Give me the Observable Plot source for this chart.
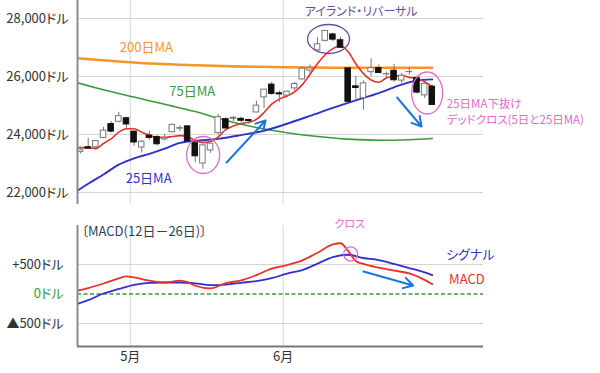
<!DOCTYPE html>
<html><head><meta charset="utf-8">
<script src="https://cdn.jsdelivr.net/npm/d3@7"></script>
<script src="https://cdn.jsdelivr.net/npm/@observablehq/plot@0.6"></script>
<style>
body{margin:0;background:#fff;}
#chart{position:relative;width:600px;height:373px;overflow:hidden;background:#fff;}
#chart svg{position:absolute;left:0;}
#chart text{font-feature-settings:"palt";}
</style></head><body><div id="chart"></div>
<script>
// ---- data (Dow, daily candles) ----
const dates = ["4/22","4/23","4/24","4/27","4/28","4/29","4/30","5/1","5/4","5/5","5/6","5/7","5/8","5/11","5/12","5/13","5/14","5/15","5/18","5/19","5/20","5/21","5/22","5/26","5/27","5/28","5/29","6/1","6/2","6/3","6/4","6/5","6/8","6/9","6/10","6/11","6/12","6/15","6/16","6/17","6/18","6/19","6/22","6/23","6/24","6/25","6/26"];
const opens  = [23400,23560,23560,23880,24360,24440,24560,24100,23550,23960,23910,23830,24080,24200,24280,23700,23000,23450,24050,24530,24540,24540,24500,24760,25280,25720,25420,25340,25590,25900,26210,26900,27230,27450,27250,26280,25660,25250,26150,26290,26070,26200,25860,26150,25950,25350,25650];
const highs  = [23560,23870,23800,24250,24450,24765,24600,24100,23800,24120,23970,24000,24360,24300,24300,23760,23650,23700,24690,24570,24620,24600,24520,25150,25550,25800,25500,25500,25800,26330,26390,27340,27580,27500,27355,26300,26000,25850,26610,26400,26150,26420,26100,26300,26020,25760,25700];
const lows   = [23330,23480,23450,23850,24050,24400,24200,23590,23360,23800,23600,23780,24050,24100,23760,23030,22800,23350,24000,24200,24450,24400,24350,24750,24900,25350,25100,25320,25500,25880,26100,26880,27190,27200,26980,25100,25200,24840,26000,26100,25900,25800,25750,26050,25400,25250,25000];
const closes = [23475,23515,23775,24134,24101,24634,24346,23724,23750,23883,23664,23875,24331,24221,23764,23248,23625,23685,24597,24207,24576,24474,24465,24995,25548,25401,25383,25475,25742,26270,26282,27110,27572,27272,26990,25128,25606,25763,26290,26120,26080,25871,26025,26156,25445,25746,25016];

// moving averages (day index; -1 = day before the window)
const ma5Days = [-1,0,1,2,3,4,5,6,7,8,9,10,11,12,13,14,15,16,17,18,19,20,21,22,23,24,25,26,27,28,29,30,31,32,33,34,35,36,37,38,39,40,41,42,43,44,45,46];
const ma5 = [23560,23550,23540,23520,23690,23850,24080,24200,24200,24080,23980,23900,23900,23930,23960,23920,23800,23720,23760,23920,24170,24290,24380,24420,24520,24760,25050,25220,25330,25470,25720,26070,26450,26750,26960,27060,26850,26440,26100,25880,25800,25950,26020,26030,25970,25930,25820,25650];
const ma25Days = [-1,1,3,5,7,9,11,13,15,18,21,24,27,30,33,36,39,42,44,46];
const ma25 = [21960,22300,22620,22960,23180,23330,23510,23710,23780,23850,23980,24130,24370,24640,24920,25180,25430,25720,25860,25900];
const ma75Days = [-1,3,7,11,15,19,23,27,31,35,39,43,46];
const ma75 = [25830,25540,25290,25040,24790,24480,24240,24060,23930,23840,23800,23820,23860];
const ma200Days = [-1,5,10,15,20,25,30,35,40,46];
const ma200 = [26640,26520,26440,26390,26350,26330,26310,26300,26300,26300];

const macdDays = [-1,1,3,5,6,7,9,11,13,14,15,17,19,21,23,25,27,29,31,33,34,35,36,37,39,41,43,45,46];
const macd = [40,100,178,265,297,280,225,195,225,200,140,95,185,230,320,430,490,570,700,840,860,730,560,510,445,395,350,240,165];
const signalDays = [-1,1,3,5,7,9,11,13,15,17,19,21,23,25,27,29,31,33,35,37,39,41,43,45,46];
const signal = [-190,-105,8,85,155,188,195,195,180,150,160,190,220,268,345,405,515,625,665,610,575,510,440,365,320];

// tick labels
const priceTicks = [22000,24000,26000,28000];
const macdTicks = [-500,500];
const monthLabels = ["5月","6月"];

// ---- build tables ----
const candles = dates.map((d,i)=>({i, date:d, open:opens[i], high:highs[i], low:lows[i], close:closes[i]}));
const up = candles.filter(d=>d.close>=d.open), down = candles.filter(d=>d.close<d.open);
const series = (days, vals) => days.map((i,k)=>({i, v:vals[k]}));
const monthTicks = [];
dates.forEach((d,i)=>{ if(i>0 && d.split("/")[0]!==dates[i-1].split("/")[0]) monthTicks.push(i-0.5); });
const monthMap = new Map(monthTicks.map((t,k)=>[t, monthLabels[k]]));

const xDomain = [-0.4, 52.7];
const font = "'Noto Sans CJK JP','Noto Sans',sans-serif";
const C = {red:"#e8302c", blue:"#3030cc", green:"#3b9a3b", orange:"#f5962a", pink:"#e06cc6", purple:"#6b4d9e", arrow:"#1e74de", grid:"#d4d4d4", axis:"#8a8a8a"};

const ellipses = (list) => (index, scales) => {
  const g = d3.create("svg:g").attr("fill","none");
  for (const e of list) g.append("ellipse")
    .attr("cx", scales.x(e.x)).attr("cy", scales.y(e.y))
    .attr("rx", e.rx).attr("ry", e.ry)
    .attr("stroke", e.color).attr("stroke-width", 1.3);
  return g.node();
};

const topPlot = Plot.plot({
  width: 600, height: 212, marginLeft: 77, marginRight: 117, marginTop: 0, marginBottom: 8,
  style: {fontFamily: font, fontSize: "13px", color: "#333", background: "transparent", overflow: "visible"},
  x: {domain: xDomain, axis: null},
  y: {domain: [21586, 28621], ticks: priceTicks, tickFormat: d => d3.format(",")(d) + "ドル", tickSize: 0, tickPadding: 9, label: null},
  marks: [
    Plot.ruleY(priceTicks, {stroke: C.grid}),
    Plot.ruleX(monthTicks, {stroke: C.grid}),
    Plot.line(series(ma200Days, ma200), {x:"i", y:"v", stroke:C.orange, strokeWidth:2.6, curve:"monotone-x", clip:true}),
    Plot.line(series(ma75Days, ma75), {x:"i", y:"v", stroke:C.green, strokeWidth:1.6, curve:"monotone-x", clip:true}),
    Plot.line(series(ma25Days, ma25), {x:"i", y:"v", stroke:C.blue, strokeWidth:1.9, curve:"monotone-x", clip:true}),
    Plot.line(series(ma5Days, ma5), {x:"i", y:"v", stroke:C.red, strokeWidth:1.6, curve:"monotone-x", clip:true}),
    Plot.ruleX(candles, {x:"i", y1:"low", y2:"high", stroke:"#777", strokeWidth:1}),
    Plot.rect(up, {x1: d=>d.i-0.36, x2: d=>d.i+0.36, y1:"open", y2:"close", fill:"white", stroke:"#777", strokeWidth:1}),
    Plot.rect(down, {x1: d=>d.i-0.36, x2: d=>d.i+0.36, y1:"open", y2:"close", fill:"#111", stroke:"#111", strokeWidth:1}),
    Plot.ruleX([xDomain[0]], {stroke: C.axis, strokeWidth: 2}),
    Plot.text([{x:8.6,y:27000,t:"200日MA"}], {x:"x", y:"y", text:"t", fill:C.orange, fontSize:13}),
    Plot.text([{x:14.6,y:25483,t:"75日MA"}], {x:"x", y:"y", text:"t", fill:C.green, fontSize:13}),
    Plot.text([{x:8.9,y:22483,t:"25日MA"}], {x:"x", y:"y", text:"t", fill:C.blue, fontSize:13}),
    Plot.text([{x:36.7,y:28207,t:"アイランド・リバーサル"}], {x:"x", y:"y", text:"t", fill:C.purple, fontSize:12, stroke:"white", strokeWidth:4}),
    Plot.text([{x:47.9,y:25034,t:"25日MA下抜け"},{x:47.9,y:24483,t:"デッドクロス(5日と25日MA)"}], {x:"x", y:"y", text:"t", fill:C.pink, fontSize:11.5, textAnchor:"start"}),
    Plot.arrow([{x1:19.1,y1:23035,x2:24.2,y2:24483},{x1:41.4,y1:25276,x2:44.6,y2:24276}], {x1:"x1", y1:"y1", x2:"x2", y2:"y2", stroke:C.arrow, strokeWidth:2, headLength:8}),
    ellipses([
      {x:16.1, y:23276, rx:16.5, ry:18.5, color:C.pink},
      {x:45.4, y:25414, rx:15.5, ry:21, color:C.pink},
      {x:32.5, y:27276, rx:21, ry:14.5, color:C.purple}
    ])
  ]
});
topPlot.style.top = "0px";

const bottomPlot = Plot.plot({
  width: 600, height: 161, marginLeft: 77, marginRight: 117, marginTop: 13, marginBottom: 27,
  style: {fontFamily: font, fontSize: "13px", color: "#333", background: "transparent", overflow: "visible"},
  x: {domain: xDomain, ticks: monthTicks, tickFormat: d => monthMap.get(d), tickSize: 0, tickPadding: 5, label: null},
  y: {domain: [-890, 1161], ticks: macdTicks, tickFormat: d => (d > 0 ? "+" : "▲") + Math.abs(d) + "ドル", tickSize: 0, tickPadding: 14, label: null},
  marks: [
    Plot.ruleY(macdTicks, {stroke: C.grid}),
    Plot.ruleX(monthTicks, {stroke: C.grid}),
    Plot.ruleY([0], {stroke: C.green, strokeWidth: 1.5, strokeDasharray: "4,2.5"}),
    Plot.text([0], {x: xDomain[0], y: d => d, text: d => d + "ドル", dx: -14, textAnchor: "end", fill: C.green, fontSize: 13}),
    Plot.line(series(signalDays, signal), {x:"i", y:"v", stroke:C.blue, strokeWidth:1.8, curve:"monotone-x", clip:true}),
    Plot.line(series(macdDays, macd), {x:"i", y:"v", stroke:C.red, strokeWidth:1.8, curve:"monotone-x", clip:true}),
    Plot.ruleX([xDomain[0]], {stroke: C.axis, strokeWidth: 2}),
    Plot.ruleY([-890], {stroke: "#777", strokeWidth: 2}),
    Plot.text([{x:xDomain[0],y:1060,t:"〔MACD(12日－26日)〕"}], {x:"x", y:"y", text:"t", fill:"#2e3f5c", fontSize:13, textAnchor:"start", dx:4}),
    Plot.text([{x:35.2,y:1178,t:"クロス"}], {x:"x", y:"y", text:"t", fill:C.pink, fontSize:11}),
    Plot.text([{x:47.8,y:670,t:"シグナル"}], {x:"x", y:"y", text:"t", fill:C.blue, fontSize:13, textAnchor:"start", stroke:"white", strokeWidth:4}),
    Plot.text([{x:48.2,y:246,t:"MACD"}], {x:"x", y:"y", text:"t", fill:C.red, fontSize:13, textAnchor:"start"}),
    Plot.arrow([{x1:37,y1:381,x2:43.5,y2:144}], {x1:"x1", y1:"y1", x2:"x2", y2:"y2", stroke:C.arrow, strokeWidth:2, headLength:8}),
    ellipses([{x:35.4, y:670, rx:7, ry:7, color:C.pink}])
  ]
});
bottomPlot.style.top = "212px";

const chart = document.getElementById("chart");
chart.append(topPlot, bottomPlot);
</script>
</body></html>
